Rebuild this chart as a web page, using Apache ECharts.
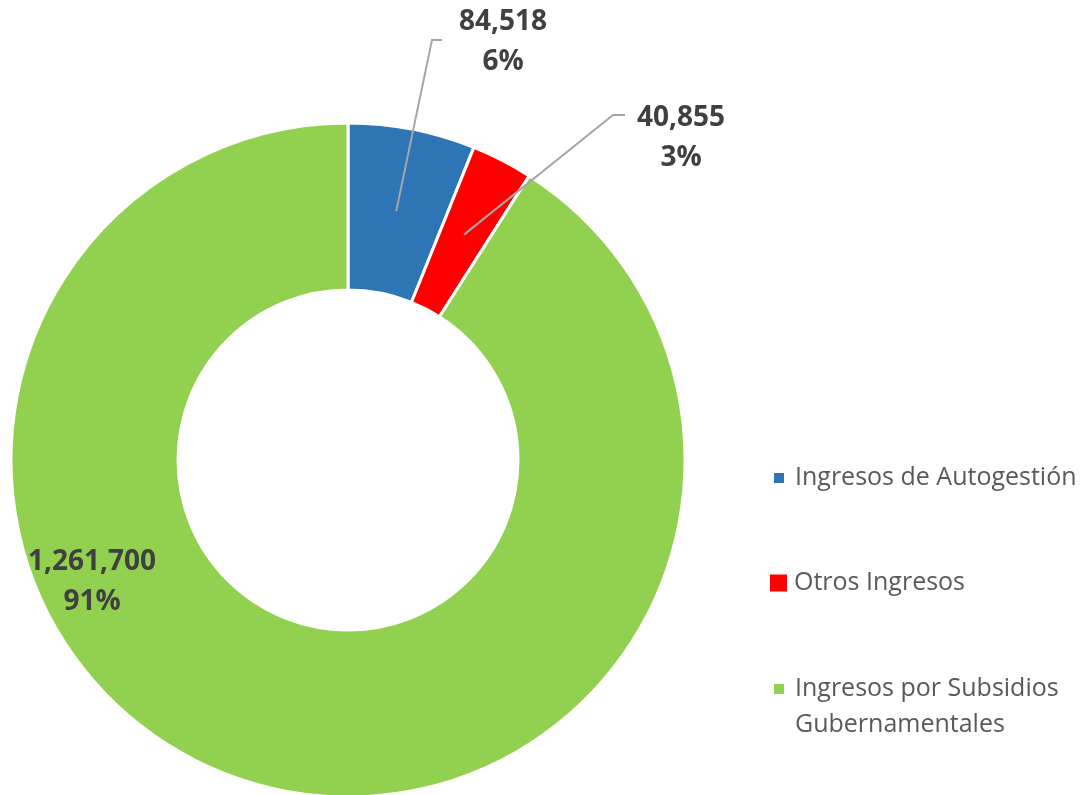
<!DOCTYPE html>
<html>
<head>
<meta charset="utf-8">
<script src="https://cdn.jsdelivr.net/npm/echarts@6/dist/echarts.min.js"></script>
<style>html,body{margin:0;padding:0;background:#fff;}#chart{width:1084px;height:795px;}</style>
</head>
<body>
<div id="chart"></div>
<script>
const categories = ['Ingresos de Autogestión', 'Otros Ingresos', 'Ingresos por Subsidios Gubernamentales'];
const values = [84518, 40855, 1261700];
const colors = ['#2E75B6', '#FF0000', '#92D050'];
const legendLabels = ['Ingresos de Autogestión', 'Otros Ingresos', '\nIngresos por Subsidios\nGubernamentales'];

const CX = 348, CY = 460, R_IN = 170, R_OUT = 337;
const labelPos = [[503, 42], [681, 138], [92, 582]];
const labelElbow = [[[432, 40], [442, 40]], [[613, 115], [625, 115]], null];

const total = values.reduce((a, b) => a + b, 0);
function midPoint(i) {
  let before = 0;
  for (let k = 0; k < i; k++) before += values[k];
  const frac = (before + values[i] / 2) / total;
  const ang = frac * 2 * Math.PI;
  const r = (R_IN + R_OUT) / 2;
  return [CX + r * Math.sin(ang), CY - r * Math.cos(ang)];
}

const leaderLines = [];
labelElbow.forEach((e, i) => {
  if (!e) return;
  leaderLines.push({
    type: 'polyline', z: 100, silent: true,
    shape: {points: [midPoint(i), e[0], e[1]]},
    style: {stroke: '#A6A6A6', lineWidth: 2, fill: null}
  });
});

const chart = echarts.init(document.getElementById('chart'), null, {renderer: 'canvas'});
const legendText = {fontFamily: 'Open Sans', fontSize: 25, color: '#595959', lineHeight: 36, padding: [0, 0, 0, 5]};
const legendBase = {
  orient: 'vertical', padding: 0, icon: 'rect', itemWidth: 12, itemHeight: 12,
  textStyle: legendText,
  formatter: name => legendLabels[categories.indexOf(name)],
  selectedMode: false
};
chart.setOption({
  backgroundColor: '#ffffff',
  color: colors,
  graphic: leaderLines,
  legend: [
    Object.assign({}, legendBase, {left: 772, top: 460, data: [categories[0]]}),
    Object.assign({}, legendBase, {left: 768, top: 565, itemWidth: 19, itemHeight: 19,
      textStyle: Object.assign({}, legendText, {padding: [0, 0, 0, 1]}),
      data: [{name: categories[1], itemStyle: {borderRadius: 2}}]}),
    Object.assign({}, legendBase, {left: 772, top: 635, data: [categories[2]]})
  ],
  series: [{
    type: 'pie',
    center: [CX, CY],
    radius: [R_IN, R_OUT],
    startAngle: 90,
    clockwise: true,
    avoidLabelOverlap: false,
    animation: false,
    itemStyle: {borderColor: '#ffffff', borderWidth: 3},
    label: {
      show: true,
      position: 'outside',
      formatter: p => p.value.toLocaleString('en-US') + '\n' + Math.round(p.percent) + '%',
      fontFamily: 'Open Sans', fontWeight: 'bold', fontSize: 28, color: '#404040',
      lineHeight: 40, align: 'center'
    },
    labelLine: {show: false},
    labelLayout: function (params) {
      const i = params.dataIndex;
      return {x: labelPos[i][0], y: labelPos[i][1], align: 'center', verticalAlign: 'middle'};
    },
    data: categories.map((c, i) => ({name: c, value: values[i]}))
  }]
});
</script>
</body>
</html>
